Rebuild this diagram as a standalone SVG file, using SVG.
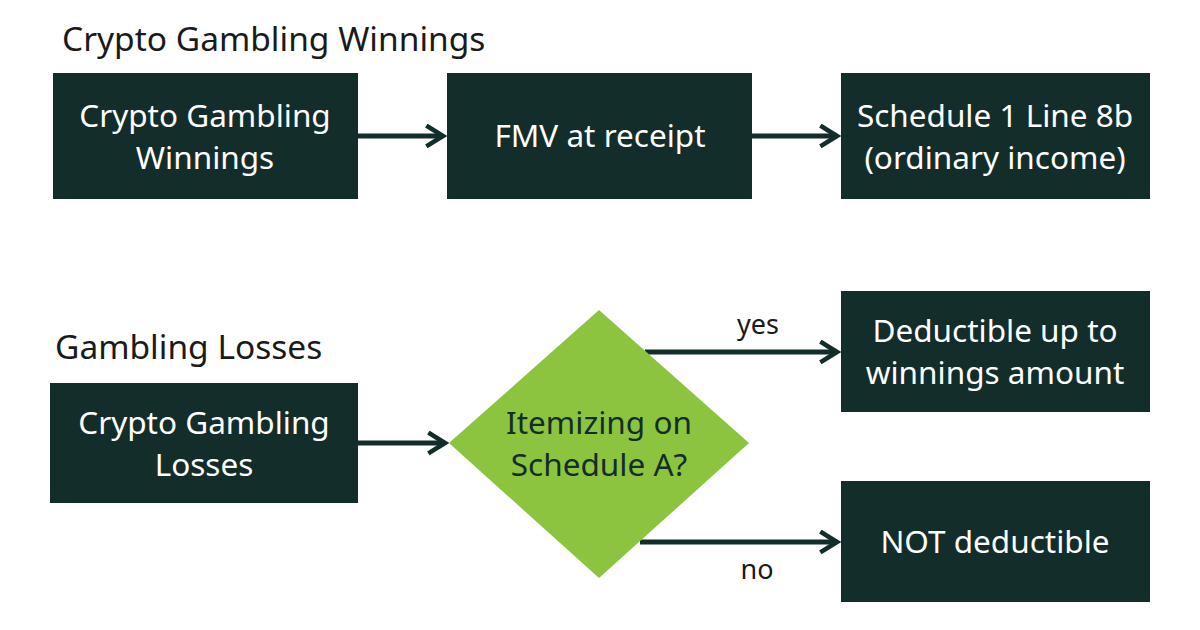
<svg xmlns="http://www.w3.org/2000/svg" width="1200" height="630" viewBox="0 0 1200 630">
<style>
.box{fill:#132d2b}
.t{font-family:"Noto Sans","Open Sans",sans-serif;font-size:31.5px;fill:#ffffff;text-anchor:middle}
.h{font-family:"Noto Sans","Open Sans",sans-serif;font-size:33.5px;fill:#1a1a1a}
.l{font-family:"Noto Sans","Open Sans",sans-serif;font-size:27px;fill:#1a1a1a;text-anchor:middle}
.c{stroke:#132d2b;stroke-width:5;fill:none}
</style>
<defs>
<marker id="a" viewBox="0 0 12 12" refX="10" refY="6" markerWidth="5" markerHeight="5" orient="auto" markerUnits="strokeWidth">
<path d="M2,1 L10,6 L2,11" fill="none" stroke="#132d2b" stroke-width="2.2"/>
</marker>
</defs>
<rect width="1200" height="630" fill="#ffffff"/>
<text class="h" x="62" y="51">Crypto Gambling Winnings</text>
<text class="h" x="55" y="359">Gambling Losses</text>
<g id="connectors">
<line class="c" x1="358" y1="136" x2="443" y2="136" marker-end="url(#a)"/>
<line class="c" x1="752" y1="136" x2="837" y2="136" marker-end="url(#a)"/>
<line class="c" x1="358" y1="443" x2="445" y2="443" marker-end="url(#a)"/>
<line class="c" x1="645" y1="352" x2="837" y2="352" marker-end="url(#a)"/>
<line class="c" x1="640" y1="542" x2="837" y2="542" marker-end="url(#a)"/>
<text class="l" x="758" y="334">yes</text>
<text class="l" x="757" y="579">no</text>
</g>
<g id="n1"><rect class="box" x="53" y="73" width="305" height="126"/><text class="t" x="205" y="127">Crypto Gambling</text><text class="t" x="205" y="169">Winnings</text></g>
<g id="n2"><rect class="box" x="447" y="73" width="305" height="126"/><text class="t" x="600" y="147">FMV at receipt</text></g>
<g id="n3"><rect class="box" x="841" y="73" width="309" height="126"/><text class="t" x="995" y="127">Schedule 1 Line 8b</text><text class="t" x="995" y="169">(ordinary income)</text></g>
<g id="n4"><rect class="box" x="50" y="383" width="308" height="120"/><text class="t" x="204" y="434">Crypto Gambling</text><text class="t" x="204" y="476">Losses</text></g>
<g id="n5"><polygon points="599,310 749,443 599,578 449,443" fill="#8cc43f"/><text class="t" x="599" y="434" style="fill:#132d2b">Itemizing on</text><text class="t" x="599" y="476" style="fill:#132d2b">Schedule A?</text></g>
<g id="n6"><rect class="box" x="841" y="291" width="309" height="121"/><text class="t" x="995" y="342">Deductible up to</text><text class="t" x="995" y="384">winnings amount</text></g>
<g id="n7"><rect class="box" x="841" y="481" width="309" height="121"/><text class="t" x="995" y="553">NOT deductible</text></g>
</svg>
